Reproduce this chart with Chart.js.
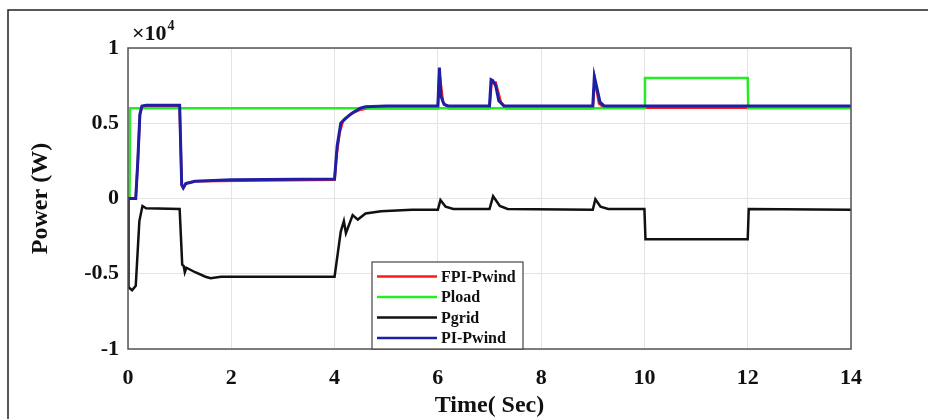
<!DOCTYPE html>
<html>
<head>
<meta charset="utf-8">
<script src="https://cdn.jsdelivr.net/npm/chart.js@4.4.1/dist/chart.umd.min.js"></script>
<style>
  html, body { margin: 0; padding: 0; background: #fff; }
  #wrap { width: 928px; height: 419px; position: relative; }
</style>
</head>
<body>
<div id="wrap"><canvas id="powerChart"></canvas></div>
<script>
// series names (legend order)
const seriesNames = ["FPI-Pwind", "Pload", "Pgrid", "PI-Pwind"];
const seriesColors = ["#ff1a1a", "#22ee22", "#111111", "#1f1fa6"];

// axis ticks
const xTicks = [0, 2, 4, 6, 8, 10, 12, 14];
const yTicks = [-10000, -5000, 0, 5000, 10000];

// FPI-Pwind (W)
const tFpi = [0, 0.15, 0.19, 0.23, 0.27, 1.0, 1.04, 1.07, 1.12, 1.3, 4.0, 4.04, 4.1, 4.16, 4.3, 4.5, 4.65, 6.0, 6.03, 6.1, 6.2, 7.0, 7.04, 7.12, 7.22, 7.32, 9.0, 9.04, 9.12, 9.22, 14];
const fpiPwind = [0, 0, 2400, 5500, 6100, 6100, 900, 700, 1000, 1150, 1250, 2900, 4400, 5100, 5600, 5900, 6000, 6000, 8400, 6400, 6000, 6000, 7700, 7700, 6400, 6000, 6000, 7900, 6300, 6030, 6030];

// Pload (W)
const tLoad = [0, 0.03, 0.04, 10, 10.01, 12, 12.01, 14];
const pLoad = [0, 0, 6000, 6000, 8000, 8000, 6000, 6000];

// Pgrid (W)
const tGrid = [0, 0.01, 0.08, 0.15, 0.22, 0.28, 0.35, 1.0, 1.05, 1.08, 1.1, 1.13, 1.3, 1.5, 1.6, 1.8, 4.0, 4.12, 4.18, 4.22, 4.35, 4.45, 4.6, 4.9, 5.5, 6.0, 6.05, 6.15, 6.3, 7.0, 7.07, 7.2, 7.35, 9.0, 9.05, 9.15, 9.3, 10.0, 10.02, 12.0, 12.02, 14];
const pGrid = [0, -5900, -6100, -5800, -1500, -500, -650, -700, -4400, -4500, -4900, -4600, -4900, -5200, -5300, -5200, -5200, -2200, -1500, -2300, -1100, -1400, -1000, -850, -750, -750, -100, -550, -700, -700, 150, -500, -700, -750, -50, -550, -700, -700, -2700, -2700, -700, -750];

// PI-Pwind (W)
const tPi = [0, 0.15, 0.19, 0.23, 0.27, 0.35, 1.0, 1.04, 1.07, 1.12, 1.3, 2.0, 4.0, 4.05, 4.12, 4.2, 4.35, 4.5, 4.6, 5.0, 6.0, 6.03, 6.06, 6.12, 6.2, 7.0, 7.03, 7.06, 7.12, 7.18, 7.28, 9.0, 9.03, 9.07, 9.14, 9.22, 14];
const piPwind = [0, 0, 2500, 5600, 6150, 6200, 6200, 900, 700, 1000, 1150, 1250, 1300, 3500, 5000, 5300, 5700, 6000, 6100, 6150, 6150, 8700, 6800, 6250, 6150, 6150, 7900, 7850, 7500, 6500, 6150, 6150, 8100, 7500, 6400, 6150, 6150];

const toPts = (ts, vs) => ts.map((t, i) => ({ x: t, y: vs[i] }));

const serif = "'Liberation Serif', 'DejaVu Serif', serif";

// frame, plot box, x10^4 label and legend
const decorPlugin = {
  id: "decor",
  afterDatasetsDraw(chart) {
    const { ctx, chartArea: a } = chart;
    ctx.save();
    // plot box
    ctx.strokeStyle = "#555";
    ctx.lineWidth = 1.5;
    ctx.strokeRect(a.left, a.top, a.right - a.left, a.bottom - a.top);

    // legend box
    const lx = a.left + 244, ly = a.bottom - 87, lw = 151, lh = 87;
    ctx.fillStyle = "#fff";
    ctx.fillRect(lx, ly, lw, lh);
    ctx.strokeStyle = "#444";
    ctx.lineWidth = 1.2;
    ctx.strokeRect(lx, ly, lw, lh);
    ctx.font = "bold 16px " + serif;
    ctx.textBaseline = "middle";
    ctx.textAlign = "left";
    chart.data.datasets.forEach((ds, i) => {
      const yy = ly + 14.5 + i * 20.5;
      ctx.strokeStyle = ds.borderColor;
      ctx.lineWidth = 2.5;
      ctx.beginPath();
      ctx.moveTo(lx + 5, yy);
      ctx.lineTo(lx + 65, yy);
      ctx.stroke();
      ctx.fillStyle = "#111";
      ctx.fillText(ds.label, lx + 69, yy + 1);
    });

    // exponent label
    ctx.fillStyle = "#111";
    ctx.textBaseline = "alphabetic";
    ctx.font = "bold 22px " + serif;
    const base = "\u00d710";
    ctx.fillText(base, a.left + 4, a.top - 8);
    const bw = ctx.measureText(base).width;
    ctx.font = "bold 14px " + serif;
    ctx.fillText("4", a.left + 5 + bw, a.top - 18);

    // outer frame
    ctx.strokeStyle = "#222";
    ctx.lineWidth = 1.5;
    ctx.beginPath();
    ctx.moveTo(8, chart.height);
    ctx.lineTo(8, 10);
    ctx.lineTo(chart.width, 10);
    ctx.stroke();
    ctx.restore();
  }
};

new Chart(document.getElementById("powerChart"), {
  type: "line",
  data: {
    datasets: [
      { label: seriesNames[0], data: toPts(tFpi, fpiPwind), borderColor: seriesColors[0], borderWidth: 2.5, order: 4 },
      { label: seriesNames[1], data: toPts(tLoad, pLoad), borderColor: seriesColors[1], borderWidth: 2.5, order: 3 },
      { label: seriesNames[2], data: toPts(tGrid, pGrid), borderColor: seriesColors[2], borderWidth: 2.5, order: 2 },
      { label: seriesNames[3], data: toPts(tPi, piPwind), borderColor: seriesColors[3], borderWidth: 3, order: 1 }
    ]
  },
  options: {
    responsive: true,
    maintainAspectRatio: false,
    animation: false,
    layout: { padding: { top: 48, right: 77, left: 0, bottom: 0 } },
    elements: { point: { radius: 0 }, line: { tension: 0, fill: false } },
    plugins: { legend: { display: false }, tooltip: { enabled: false } },
    scales: {
      x: {
        type: "linear",
        min: 0,
        max: 14,
        afterFit: s => { s.height = 70; },
        afterBuildTicks: s => { s.ticks = xTicks.map(v => ({ value: v })); },
        grid: { color: "#e4e4e4", drawTicks: false },
        border: { display: false },
        ticks: { padding: 16, color: "#111", font: { family: serif, size: 22, weight: "bold" } },
        title: { display: true, text: "Time( Sec)", color: "#111", padding: { top: 0, bottom: -1 }, font: { family: serif, size: 24, weight: "bold" } }
      },
      y: {
        min: -10000,
        max: 10000,
        afterFit: s => { s.width = 128; },
        afterBuildTicks: s => { s.ticks = yTicks.map(v => ({ value: v })); },
        grid: { color: "#e4e4e4", drawTicks: false },
        border: { display: false },
        ticks: { padding: 9, color: "#111", font: { family: serif, size: 22, weight: "bold" }, callback: v => String(v / 10000) },
        title: { display: true, text: "Power (W)", color: "#111", padding: { top: 26, bottom: 0 }, font: { family: serif, size: 24, weight: "bold" } }
      }
    }
  },
  plugins: [decorPlugin]
});
</script>
</body>
</html>
